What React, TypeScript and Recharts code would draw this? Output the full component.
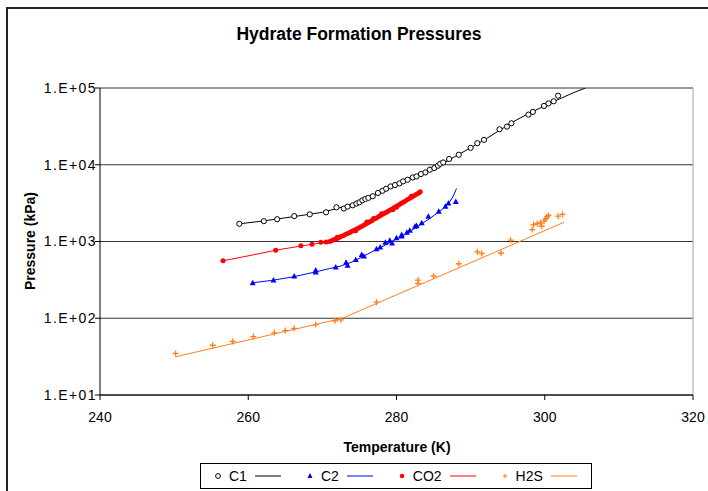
import React from 'react';
import { ScatterChart, Scatter, XAxis, YAxis, CartesianGrid, ReferenceLine } from 'recharts';

// measured points, [temperature K, pressure kPa]
const c1Points: number[][] = [
  [258.8, 1700], [262.1, 1840], [263.9, 1950], [266.2, 2140], [268.3, 2260], [270.5, 2400],
  [271.9, 2790], [272.9, 2690], [273.4, 2850], [274.1, 2960], [274.6, 3120], [275.0, 3240],
  [275.4, 3440], [275.8, 3580], [276.2, 3700], [276.8, 3890], [277.5, 4290], [278.1, 4580],
  [278.6, 4870], [279.2, 5220], [279.8, 5440], [280.4, 5720], [280.9, 6070], [281.5, 6380],
  [282.2, 6840], [282.7, 7050], [283.3, 7570], [283.9, 7940], [284.5, 8610], [285.1, 9060],
  [285.6, 9710], [285.9, 10300], [286.3, 10700], [287.1, 11900], [288.4, 13500], [290.0, 16600],
  [290.9, 19100], [291.8, 21100], [293.9, 29000], [294.9, 31400], [295.5, 34700], [297.8, 45000],
  [298.4, 48800], [299.9, 58400], [300.5, 63000], [301.2, 67100], [301.8, 79400],
];

const c2Points: number[][] = [
  [260.6, 291], [263.4, 316], [266.2, 355], [269.1, 425], [269.1, 400], [271.8, 465],
  [273.2, 537], [273.4, 490], [274.5, 583], [275.3, 677], [275.6, 645], [277.3, 804],
  [277.8, 851], [278.5, 978], [279.1, 1040], [279.4, 955], [280.0, 1120], [280.7, 1180],
  [280.7, 1230], [281.4, 1320], [281.8, 1400], [282.5, 1580], [282.7, 1620], [283.4, 1750],
  [284.3, 2140], [285.7, 2480], [286.6, 2870], [287.0, 3180], [288.0, 3320],
];

const co2Points: number[][] = [
  [256.6, 561], [263.7, 771], [267.1, 879], [268.6, 922], [269.8, 978], [270.5, 985],
  [271.0, 1000], [271.3, 1030], [271.6, 1060], [271.9, 1090], [272.0, 1140], [272.2, 1120],
  [272.5, 1160], [272.8, 1190], [273.1, 1230], [273.4, 1270], [273.7, 1310], [274.0, 1360],
  [274.3, 1400], [274.5, 1380], [274.6, 1450], [274.9, 1500], [275.2, 1560], [275.5, 1620],
  [275.8, 1680], [276.0, 1800], [276.1, 1740], [276.4, 1810], [276.7, 1880], [276.9, 2000],
  [277.0, 1960], [277.3, 2030], [277.6, 2110], [277.9, 2190], [278.0, 2300], [278.2, 2280],
  [278.5, 2370], [278.8, 2460], [279.1, 2560], [279.4, 2660], [279.5, 2600], [279.7, 2770],
  [280.0, 2880], [280.0, 2800], [280.3, 3000], [280.6, 3120], [280.9, 3250], [281.2, 3380],
  [281.5, 3520], [281.8, 3660], [282.0, 3900], [282.1, 3810], [282.4, 3970], [282.7, 4130],
  [283.0, 4300], [283.2, 4450],
];

const h2sPoints: number[][] = [
  [250.2, 34.8], [255.2, 44.5], [257.9, 49.8], [260.7, 57.6], [263.5, 64.6], [265.0, 69],
  [266.2, 74], [269.1, 82.8], [271.7, 92.5], [272.5, 95.4], [277.3, 162], [282.9, 314],
  [282.9, 285], [285.0, 355], [288.4, 513], [290.9, 734], [291.5, 698], [294.1, 708],
  [295.4, 1040], [298.3, 1430], [298.5, 1660], [299.0, 1710], [299.4, 1750], [299.6, 1580],
  [299.9, 1840], [300.1, 1970], [300.3, 2090], [300.5, 2180], [301.8, 2140], [302.4, 2250],
];

// fitted curves
const c1Curve: number[][] = [
  [258.8, 1700], [262, 1850], [266, 2100], [270, 2400], [272, 2700], [274, 3050], [276, 3600],
  [278, 4450], [280, 5550], [282, 6700], [284, 8100], [286, 10000], [288, 13000], [290, 16600],
  [292, 21500], [294, 28500], [296, 37500], [298, 47500], [300, 58500], [302, 72000],
  [304, 88000], [305.5, 100000],
];
const c2Curve: number[][] = [
  [260.6, 290], [263, 310], [266, 345], [269, 400], [271, 445], [272.5, 480], [274, 540],
  [275.5, 640], [277, 760], [278.5, 900], [280, 1080], [281.5, 1300], [283, 1600],
  [284.5, 2000], [286, 2550], [287, 3100], [287.6, 3800], [288.1, 4900],
];
const co2Curve: number[][] = [
  [256.6, 561], [260, 650], [264, 780], [268, 900], [270.5, 980], [272, 1100], [274, 1330],
  [276, 1720], [278, 2230], [280, 2900], [282, 3800], [283.2, 4450],
];
const h2sCurve: number[][] = [[250.2, 31.5], [272.7, 100], [302.6, 1780]];

const xTicks = [240, 260, 280, 300, 320];
const yTicks = [10, 100, 1000, 10000, 100000];

const toXY = (arr: number[][]) => arr.map(([x, y]) => ({ x, y }));

const fmtY = (v: number) => '1.E+' + String(Math.round(Math.log10(v))).padStart(2, '0');

const Empty = () => <g />;

const Circle = (p: any) => <circle cx={p.cx} cy={p.cy} r={2.6} fill="#fff" stroke="#000" strokeWidth={1} />;
const Tri = (p: any) => (
  <polygon points={`${p.cx},${p.cy - 3} ${p.cx - 3},${p.cy + 2.5} ${p.cx + 3},${p.cy + 2.5}`} fill="#0000ff" />
);
const Dot = (p: any) => <circle cx={p.cx} cy={p.cy} r={2.5} fill="#ff0000" />;
const Plus = (p: any) => (
  <path d={`M${p.cx - 3},${p.cy}H${p.cx + 3}M${p.cx},${p.cy - 3}V${p.cy + 3}`} stroke="#ff7f1e" strokeWidth={1.3} />
);

const font = '"Liberation Sans", Arial, sans-serif';

const legendItems = [
  { name: 'C1', color: '#000', marker: <circle cx={5} cy={6} r={2.4} fill="#fff" stroke="#000" /> },
  { name: 'C2', color: '#0000ff', marker: <polygon points="5,3 2.5,8 7.5,8" fill="#0000ff" /> },
  { name: 'CO2', color: '#ff0000', marker: <circle cx={5} cy={6} r={2.2} fill="#ff0000" /> },
  { name: 'H2S', color: '#ff7f1e', marker: <path d="M3,6H7M5,4V8" stroke="#ff7f1e" /> },
];

export default function App() {
  return (
    <div style={{ position: 'absolute', left: 0, top: 0, width: 708, height: 491, background: '#fff', fontFamily: font }}>
      <div style={{ position: 'absolute', left: 6, top: 7, width: 702, height: 484, borderLeft: '2px solid #222', borderTop: '2px solid #222' }} />
      <div style={{ position: 'absolute', left: 0, top: 24, width: 718, textAlign: 'center', fontWeight: 'bold', fontSize: 17.5 }}>
        Hydrate Formation Pressures
      </div>
      <div style={{ position: 'absolute', left: 30, top: 241, width: 0, height: 0 }}>
        <div style={{ position: 'absolute', transform: 'translate(-50%,-50%) rotate(-90deg)', whiteSpace: 'nowrap', fontWeight: 'bold', fontSize: 14 }}>
          Pressure (kPa)
        </div>
      </div>
      <div style={{ position: 'absolute', left: 297, top: 439, width: 200, textAlign: 'center', fontWeight: 'bold', fontSize: 14 }}>
        Temperature (K)
      </div>
      <ScatterChart width={708} height={491} margin={{ top: 88, right: 15, bottom: 66, left: 0 }} style={{ position: 'absolute', left: 0, top: 0 }}>
        <CartesianGrid horizontal vertical={false} stroke="#333" strokeOpacity={1} horizontalValues={yTicks} />
        <ReferenceLine x={320} stroke="#a0a0a0" />
        <XAxis
          type="number"
          dataKey="x"
          domain={[240, 320]}
          ticks={xTicks}
          height={30}
          tickSize={5}
          tickMargin={12}
          stroke="#000"
          tick={{ fill: '#000', fontSize: 14, fontFamily: font }}
        />
        <YAxis
          type="number"
          dataKey="y"
          scale="log"
          domain={[10, 100000]}
          allowDataOverflow
          ticks={yTicks}
          tickFormatter={fmtY}
          width={100}
          tickSize={5}
          tickMargin={-2}
          stroke="#000"
          tick={{ fill: '#000', fontSize: 14, fontFamily: font, letterSpacing: 1.4 }}
        />
        <Scatter data={toXY(c1Curve)} line={{ stroke: '#000', strokeWidth: 1 }} lineType="joint" shape={<Empty />} isAnimationActive={false} />
        <Scatter data={toXY(c2Curve)} line={{ stroke: '#0000ff', strokeWidth: 1 }} lineType="joint" shape={<Empty />} isAnimationActive={false} />
        <Scatter data={toXY(co2Curve)} line={{ stroke: '#ff0000', strokeWidth: 1 }} lineType="joint" shape={<Empty />} isAnimationActive={false} />
        <Scatter data={toXY(h2sCurve)} line={{ stroke: '#ff7f1e', strokeWidth: 1 }} lineType="joint" shape={<Empty />} isAnimationActive={false} />
        <Scatter data={toXY(c1Points)} shape={Circle} isAnimationActive={false} />
        <Scatter data={toXY(c2Points)} shape={Tri} isAnimationActive={false} />
        <Scatter data={toXY(co2Points)} shape={Dot} isAnimationActive={false} />
        <Scatter data={toXY(h2sPoints)} shape={Plus} isAnimationActive={false} />
      </ScatterChart>
      <div style={{ position: 'absolute', left: 200, top: 463, width: 390, height: 24, border: '1px solid #000', display: 'flex', alignItems: 'center', fontSize: 14 }}>
        {legendItems.map((it, i) => (
          <div key={it.name} style={{ display: 'flex', alignItems: 'center', marginLeft: i === 0 ? 12 : 24 }}>
            <svg width={10} height={12}>{it.marker}</svg>
            <span style={{ marginLeft: 6 }}>{it.name}</span>
            <svg width={26} height={12} style={{ marginLeft: 8 }}>
              <line x1={0} x2={26} y1={6} y2={6} stroke={it.color} strokeWidth={1} />
            </svg>
          </div>
        ))}
      </div>
    </div>
  );
}
